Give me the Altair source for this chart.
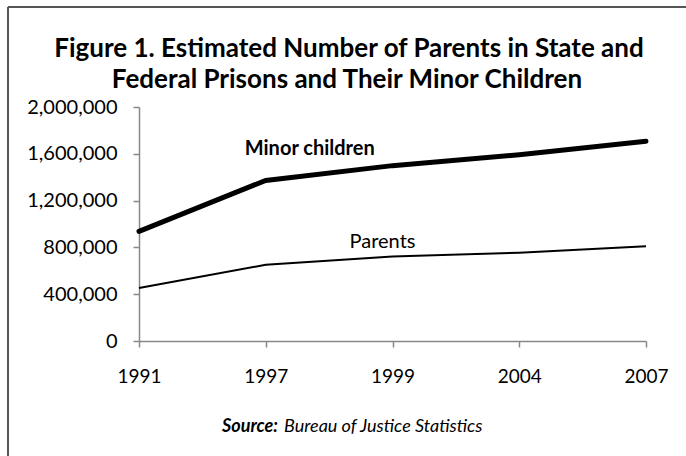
import altair as alt
import pandas as pd

years = ["1991", "1997", "1999", "2004", "2007"]
minor_children = [936500, 1372700, 1498800, 1591600, 1706600]
parents = [452500, 651800, 721500, 755000, 809800]
title_lines = ["Figure 1. Estimated Number of Parents in State and",
               "Federal Prisons and Their Minor Children"]
source_bold = "Source:"
source_rest = "Bureau of Justice Statistics"

FONT = "Lato"
W, H = 507, 234

df = pd.DataFrame({
    "year": years * 2,
    "value": minor_children + parents,
    "series": ["Minor children"] * 5 + ["Parents"] * 5,
})

x = alt.X("year:O", sort=years, title=None,
          scale=alt.Scale(type="point", padding=0),
          axis=alt.Axis(labelAngle=0, labelFontSize=19, labelColor="black", labelFont=FONT,
                        labelPadding=20, tickSize=6, tickColor="#888", domainColor="#888",
                        domainWidth=1.5, tickWidth=1.5))
y = alt.Y("value:Q", title=None,
          scale=alt.Scale(domain=[0, 2000000], nice=False),
          axis=alt.Axis(values=[0, 400000, 800000, 1200000, 1600000, 2000000], format=",.0f",
                        grid=False, labelFontSize=20, labelColor="black", labelFont=FONT,
                        labelPadding=16, tickSize=6, tickColor="#888", domainColor="#888",
                        domainWidth=1.5, tickWidth=1.5))

base = alt.Chart(df)
line_children = base.transform_filter(alt.datum.series == "Minor children").mark_line(
    color="black", strokeWidth=5, strokeCap="round").encode(x=x, y=y)
line_parents = base.transform_filter(alt.datum.series == "Parents").mark_line(
    color="black", strokeWidth=2).encode(x=x, y=y)

lab_children = alt.Chart(pd.DataFrame({"year": [years[1]], "value": [minor_children[1]],
                                       "t": ["Minor children"]})).mark_text(
    font=FONT, fontSize=20, fontWeight="bold", color="black", dx=44, dy=-25,
    baseline="alphabetic").encode(
    x=alt.X("year:O", sort=years), y="value:Q", text="t:N")
lab_parents = alt.Chart(pd.DataFrame({"year": [years[2]], "value": [parents[2]],
                                      "t": ["Parents"]})).mark_text(
    font=FONT, fontSize=20, color="black", dx=-10, dy=-9,
    baseline="alphabetic").encode(
    x=alt.X("year:O", sort=years), y="value:Q", text="t:N")

title1 = alt.Chart(pd.DataFrame({"t": [title_lines[0]]})).mark_text(
    font=FONT, fontSize=26, fontWeight="bold", color="black", baseline="alphabetic").encode(
    x=alt.value(210), y=alt.value(-50), text="t:N")
title2 = alt.Chart(pd.DataFrame({"t": [title_lines[1]]})).mark_text(
    font=FONT, fontSize=26, fontWeight="bold", color="black", baseline="alphabetic").encode(
    x=alt.value(208), y=alt.value(-19), text="t:N")

src1 = alt.Chart(pd.DataFrame({"t": [source_bold]})).mark_text(
    font=FONT, fontSize=18, fontWeight="bold", fontStyle="italic", color="black",
    align="left", baseline="alphabetic").encode(
    x=alt.value(83), y=alt.value(325), text="t:N")
src2 = alt.Chart(pd.DataFrame({"t": [source_rest]})).mark_text(
    font=FONT, fontSize=18, fontStyle="italic", color="black",
    align="left", baseline="alphabetic").encode(
    x=alt.value(145), y=alt.value(325), text="t:N")

border_top = alt.Chart(pd.DataFrame({"a": [0]})).mark_rule(
    color="#555", strokeWidth=2).encode(
    x=alt.value(-131), x2=alt.value(547), y=alt.value(-100))
border_left = alt.Chart(pd.DataFrame({"a": [0]})).mark_rule(
    color="#555", strokeWidth=2).encode(
    x=alt.value(-131), y=alt.value(-100), y2=alt.value(349))

chart = alt.layer(
    border_top, border_left, line_parents, line_children, lab_children, lab_parents,
    title1, title2, src1, src2
).properties(
    width=W, height=H,
    autosize=alt.AutoSizeParams(type="none"),
    padding={"left": 139, "top": 107, "right": 40, "bottom": 115},
).configure_view(stroke=None)

chart.save("out.html", embed_options={"renderer": "svg", "actions": False})
